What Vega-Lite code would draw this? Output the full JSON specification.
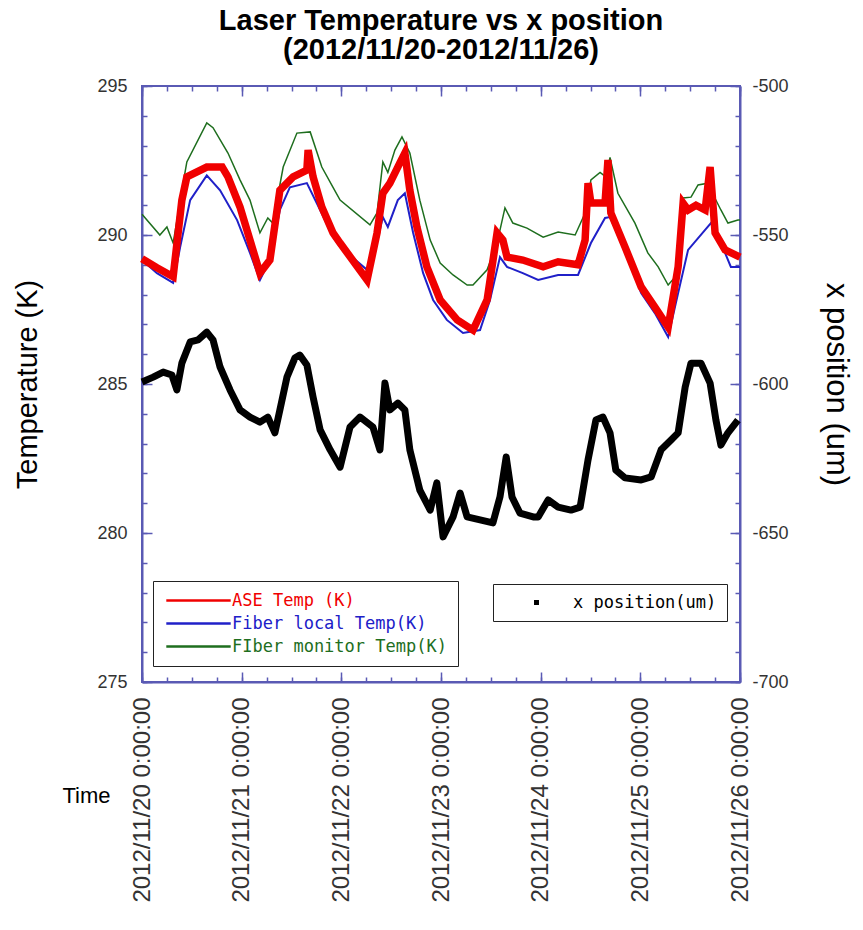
{
  "$schema": "https://vega.github.io/schema/vega-lite/v6.json",
  "width": 598,
  "height": 596,
  "autosize": "none",
  "padding": {"left": 142, "top": 86, "right": 123, "bottom": 248},
  "background": "white",
  "title": {
    "text": ["Laser Temperature vs x position", "(2012/11/20-2012/11/26)"],
    "font": "Liberation Sans",
    "fontSize": 29,
    "fontWeight": "bold",
    "lineHeight": 29,
    "offset": 12,
    "anchor": "middle",
    "color": "black"
  },
  "config": {
    "view": {"stroke": "#5a5ab4", "strokeWidth": 2},
    "axis": {
      "domainColor": "#5a5ab4",
      "domainWidth": 2,
      "tickColor": "#5a5ab4",
      "tickWidth": 1.5,
      "grid": false,
      "labelFont": "Liberation Sans",
      "labelColor": "#333333",
      "titleFont": "Liberation Sans",
      "titleFontWeight": "normal",
      "titleColor": "black",
      "labelOverlap": false,
      "labelFlush": false
    }
  },
  "datasets": {
    "temps": [
      {"s": "FIber monitor Temp(K)", "h": 0.0, "v": 290.7},
      {"s": "FIber monitor Temp(K)", "h": 4.3, "v": 290.0},
      {"s": "FIber monitor Temp(K)", "h": 6.0, "v": 290.27},
      {"s": "FIber monitor Temp(K)", "h": 7.5, "v": 289.73},
      {"s": "FIber monitor Temp(K)", "h": 9.9, "v": 291.74},
      {"s": "FIber monitor Temp(K)", "h": 10.8, "v": 292.45},
      {"s": "FIber monitor Temp(K)", "h": 15.6, "v": 293.76},
      {"s": "FIber monitor Temp(K)", "h": 17.1, "v": 293.6},
      {"s": "FIber monitor Temp(K)", "h": 20.7, "v": 292.75},
      {"s": "FIber monitor Temp(K)", "h": 23.6, "v": 291.85},
      {"s": "FIber monitor Temp(K)", "h": 26.0, "v": 291.17},
      {"s": "FIber monitor Temp(K)", "h": 28.4, "v": 290.07},
      {"s": "FIber monitor Temp(K)", "h": 30.3, "v": 290.57},
      {"s": "FIber monitor Temp(K)", "h": 31.5, "v": 290.4},
      {"s": "FIber monitor Temp(K)", "h": 34.0, "v": 292.28},
      {"s": "FIber monitor Temp(K)", "h": 37.3, "v": 293.42},
      {"s": "FIber monitor Temp(K)", "h": 40.5, "v": 293.46},
      {"s": "FIber monitor Temp(K)", "h": 43.3, "v": 292.28},
      {"s": "FIber monitor Temp(K)", "h": 46.0, "v": 291.6},
      {"s": "FIber monitor Temp(K)", "h": 47.7, "v": 291.17},
      {"s": "FIber monitor Temp(K)", "h": 54.9, "v": 290.34},
      {"s": "FIber monitor Temp(K)", "h": 56.6, "v": 290.74},
      {"s": "FIber monitor Temp(K)", "h": 58.0, "v": 292.45},
      {"s": "FIber monitor Temp(K)", "h": 59.2, "v": 292.1},
      {"s": "FIber monitor Temp(K)", "h": 60.9, "v": 292.85},
      {"s": "FIber monitor Temp(K)", "h": 62.6, "v": 293.29},
      {"s": "FIber monitor Temp(K)", "h": 64.5, "v": 292.75},
      {"s": "FIber monitor Temp(K)", "h": 66.9, "v": 291.17},
      {"s": "FIber monitor Temp(K)", "h": 69.4, "v": 289.83},
      {"s": "FIber monitor Temp(K)", "h": 71.8, "v": 289.06},
      {"s": "FIber monitor Temp(K)", "h": 74.9, "v": 288.66},
      {"s": "FIber monitor Temp(K)", "h": 78.3, "v": 288.32},
      {"s": "FIber monitor Temp(K)", "h": 79.7, "v": 288.32},
      {"s": "FIber monitor Temp(K)", "h": 83.1, "v": 288.83},
      {"s": "FIber monitor Temp(K)", "h": 85.5, "v": 289.73},
      {"s": "FIber monitor Temp(K)", "h": 87.4, "v": 290.91},
      {"s": "FIber monitor Temp(K)", "h": 89.3, "v": 290.4},
      {"s": "FIber monitor Temp(K)", "h": 92.7, "v": 290.23},
      {"s": "FIber monitor Temp(K)", "h": 96.6, "v": 289.93},
      {"s": "FIber monitor Temp(K)", "h": 100.2, "v": 290.1},
      {"s": "FIber monitor Temp(K)", "h": 104.3, "v": 290.0},
      {"s": "FIber monitor Temp(K)", "h": 106.7, "v": 290.74},
      {"s": "FIber monitor Temp(K)", "h": 108.1, "v": 291.85},
      {"s": "FIber monitor Temp(K)", "h": 110.3, "v": 292.1},
      {"s": "FIber monitor Temp(K)", "h": 111.7, "v": 291.95},
      {"s": "FIber monitor Temp(K)", "h": 112.7, "v": 292.6},
      {"s": "FIber monitor Temp(K)", "h": 114.6, "v": 291.4},
      {"s": "FIber monitor Temp(K)", "h": 118.7, "v": 290.4},
      {"s": "FIber monitor Temp(K)", "h": 121.8, "v": 289.4},
      {"s": "FIber monitor Temp(K)", "h": 124.3, "v": 288.93},
      {"s": "FIber monitor Temp(K)", "h": 126.7, "v": 288.32},
      {"s": "FIber monitor Temp(K)", "h": 128.4, "v": 288.59},
      {"s": "FIber monitor Temp(K)", "h": 130.3, "v": 291.24},
      {"s": "FIber monitor Temp(K)", "h": 132.2, "v": 291.27},
      {"s": "FIber monitor Temp(K)", "h": 133.9, "v": 291.68},
      {"s": "FIber monitor Temp(K)", "h": 136.3, "v": 291.74},
      {"s": "FIber monitor Temp(K)", "h": 137.0, "v": 291.5},
      {"s": "FIber monitor Temp(K)", "h": 139.4, "v": 290.84},
      {"s": "FIber monitor Temp(K)", "h": 141.1, "v": 290.4},
      {"s": "FIber monitor Temp(K)", "h": 143.5, "v": 290.5},
      {"s": "FIber monitor Temp(K)", "h": 144.0, "v": 290.5},

      {"s": "Fiber local Temp(K)", "h": 0.0, "v": 289.16},
      {"s": "Fiber local Temp(K)", "h": 3.6, "v": 288.72},
      {"s": "Fiber local Temp(K)", "h": 7.5, "v": 288.39},
      {"s": "Fiber local Temp(K)", "h": 9.2, "v": 289.6},
      {"s": "Fiber local Temp(K)", "h": 11.6, "v": 291.17},
      {"s": "Fiber local Temp(K)", "h": 15.6, "v": 292.0},
      {"s": "Fiber local Temp(K)", "h": 18.8, "v": 291.5},
      {"s": "Fiber local Temp(K)", "h": 22.9, "v": 290.5},
      {"s": "Fiber local Temp(K)", "h": 26.0, "v": 289.4},
      {"s": "Fiber local Temp(K)", "h": 28.4, "v": 288.49},
      {"s": "Fiber local Temp(K)", "h": 30.8, "v": 289.16},
      {"s": "Fiber local Temp(K)", "h": 33.2, "v": 290.84},
      {"s": "Fiber local Temp(K)", "h": 35.6, "v": 291.6},
      {"s": "Fiber local Temp(K)", "h": 39.7, "v": 291.74},
      {"s": "Fiber local Temp(K)", "h": 42.9, "v": 290.84},
      {"s": "Fiber local Temp(K)", "h": 46.0, "v": 289.93},
      {"s": "Fiber local Temp(K)", "h": 47.7, "v": 289.6},
      {"s": "Fiber local Temp(K)", "h": 54.2, "v": 288.83},
      {"s": "Fiber local Temp(K)", "h": 55.6, "v": 289.16},
      {"s": "Fiber local Temp(K)", "h": 58.0, "v": 290.6},
      {"s": "Fiber local Temp(K)", "h": 59.2, "v": 290.27},
      {"s": "Fiber local Temp(K)", "h": 61.6, "v": 291.17},
      {"s": "Fiber local Temp(K)", "h": 63.3, "v": 291.4},
      {"s": "Fiber local Temp(K)", "h": 65.3, "v": 290.07},
      {"s": "Fiber local Temp(K)", "h": 67.7, "v": 288.72},
      {"s": "Fiber local Temp(K)", "h": 70.1, "v": 287.82},
      {"s": "Fiber local Temp(K)", "h": 73.4, "v": 287.15},
      {"s": "Fiber local Temp(K)", "h": 77.3, "v": 286.71},
      {"s": "Fiber local Temp(K)", "h": 81.4, "v": 286.81},
      {"s": "Fiber local Temp(K)", "h": 83.8, "v": 287.82},
      {"s": "Fiber local Temp(K)", "h": 86.2, "v": 289.26},
      {"s": "Fiber local Temp(K)", "h": 87.9, "v": 288.93},
      {"s": "Fiber local Temp(K)", "h": 91.7, "v": 288.72},
      {"s": "Fiber local Temp(K)", "h": 95.4, "v": 288.49},
      {"s": "Fiber local Temp(K)", "h": 100.2, "v": 288.66},
      {"s": "Fiber local Temp(K)", "h": 105.0, "v": 288.66},
      {"s": "Fiber local Temp(K)", "h": 108.1, "v": 289.73},
      {"s": "Fiber local Temp(K)", "h": 111.5, "v": 290.57},
      {"s": "Fiber local Temp(K)", "h": 112.7, "v": 290.6},
      {"s": "Fiber local Temp(K)", "h": 116.3, "v": 289.5},
      {"s": "Fiber local Temp(K)", "h": 120.2, "v": 288.05},
      {"s": "Fiber local Temp(K)", "h": 123.5, "v": 287.38},
      {"s": "Fiber local Temp(K)", "h": 126.7, "v": 286.58},
      {"s": "Fiber local Temp(K)", "h": 129.1, "v": 288.05},
      {"s": "Fiber local Temp(K)", "h": 131.5, "v": 289.5},
      {"s": "Fiber local Temp(K)", "h": 135.6, "v": 290.17},
      {"s": "Fiber local Temp(K)", "h": 137.0, "v": 290.4},
      {"s": "Fiber local Temp(K)", "h": 140.4, "v": 289.4},
      {"s": "Fiber local Temp(K)", "h": 141.8, "v": 288.93},
      {"s": "Fiber local Temp(K)", "h": 144.0, "v": 288.93},

      {"s": "ASE Temp (K)", "h": 0.0, "v": 289.2},
      {"s": "ASE Temp (K)", "h": 3.6, "v": 288.9},
      {"s": "ASE Temp (K)", "h": 7.5, "v": 288.6},
      {"s": "ASE Temp (K)", "h": 9.6, "v": 291.17},
      {"s": "ASE Temp (K)", "h": 10.8, "v": 291.95},
      {"s": "ASE Temp (K)", "h": 15.6, "v": 292.28},
      {"s": "ASE Temp (K)", "h": 19.3, "v": 292.28},
      {"s": "ASE Temp (K)", "h": 20.7, "v": 291.95},
      {"s": "ASE Temp (K)", "h": 23.6, "v": 290.94},
      {"s": "ASE Temp (K)", "h": 26.0, "v": 289.83},
      {"s": "ASE Temp (K)", "h": 28.4, "v": 288.72},
      {"s": "ASE Temp (K)", "h": 30.8, "v": 289.16},
      {"s": "ASE Temp (K)", "h": 33.2, "v": 291.5},
      {"s": "ASE Temp (K)", "h": 36.4, "v": 291.95},
      {"s": "ASE Temp (K)", "h": 39.7, "v": 292.18},
      {"s": "ASE Temp (K)", "h": 40.0, "v": 292.85},
      {"s": "ASE Temp (K)", "h": 41.2, "v": 291.95},
      {"s": "ASE Temp (K)", "h": 43.3, "v": 290.94},
      {"s": "ASE Temp (K)", "h": 46.0, "v": 290.07},
      {"s": "ASE Temp (K)", "h": 47.7, "v": 289.73},
      {"s": "ASE Temp (K)", "h": 54.2, "v": 288.49},
      {"s": "ASE Temp (K)", "h": 56.6, "v": 290.07},
      {"s": "ASE Temp (K)", "h": 58.0, "v": 291.4},
      {"s": "ASE Temp (K)", "h": 59.7, "v": 291.74},
      {"s": "ASE Temp (K)", "h": 62.1, "v": 292.42},
      {"s": "ASE Temp (K)", "h": 63.3, "v": 292.75},
      {"s": "ASE Temp (K)", "h": 64.5, "v": 291.5},
      {"s": "ASE Temp (K)", "h": 66.2, "v": 290.27},
      {"s": "ASE Temp (K)", "h": 68.6, "v": 288.93},
      {"s": "ASE Temp (K)", "h": 71.8, "v": 287.82},
      {"s": "ASE Temp (K)", "h": 75.9, "v": 287.15},
      {"s": "ASE Temp (K)", "h": 79.7, "v": 286.81},
      {"s": "ASE Temp (K)", "h": 83.1, "v": 287.82},
      {"s": "ASE Temp (K)", "h": 85.5, "v": 290.07},
      {"s": "ASE Temp (K)", "h": 86.9, "v": 289.83},
      {"s": "ASE Temp (K)", "h": 87.9, "v": 289.26},
      {"s": "ASE Temp (K)", "h": 91.7, "v": 289.16},
      {"s": "ASE Temp (K)", "h": 96.6, "v": 288.93},
      {"s": "ASE Temp (K)", "h": 100.2, "v": 289.1},
      {"s": "ASE Temp (K)", "h": 105.0, "v": 289.0},
      {"s": "ASE Temp (K)", "h": 106.7, "v": 289.83},
      {"s": "ASE Temp (K)", "h": 107.4, "v": 291.74},
      {"s": "ASE Temp (K)", "h": 108.1, "v": 291.07},
      {"s": "ASE Temp (K)", "h": 111.5, "v": 291.07},
      {"s": "ASE Temp (K)", "h": 112.2, "v": 292.52},
      {"s": "ASE Temp (K)", "h": 112.9, "v": 290.74},
      {"s": "ASE Temp (K)", "h": 116.3, "v": 289.6},
      {"s": "ASE Temp (K)", "h": 120.2, "v": 288.26},
      {"s": "ASE Temp (K)", "h": 123.5, "v": 287.58},
      {"s": "ASE Temp (K)", "h": 126.7, "v": 286.91},
      {"s": "ASE Temp (K)", "h": 129.1, "v": 288.93},
      {"s": "ASE Temp (K)", "h": 130.3, "v": 291.07},
      {"s": "ASE Temp (K)", "h": 131.5, "v": 290.84},
      {"s": "ASE Temp (K)", "h": 133.4, "v": 291.0},
      {"s": "ASE Temp (K)", "h": 135.6, "v": 290.84},
      {"s": "ASE Temp (K)", "h": 136.8, "v": 292.28},
      {"s": "ASE Temp (K)", "h": 138.0, "v": 290.07},
      {"s": "ASE Temp (K)", "h": 140.4, "v": 289.5},
      {"s": "ASE Temp (K)", "h": 144.0, "v": 289.26}
    ],
    "xpos": [
      {"s": "x position(um)", "h": 0.0, "u": -599.3},
      {"s": "x position(um)", "h": 2.7, "u": -597.7},
      {"s": "x position(um)", "h": 5.1, "u": -596.0},
      {"s": "x position(um)", "h": 7.2, "u": -597.0},
      {"s": "x position(um)", "h": 8.4, "u": -602.0},
      {"s": "x position(um)", "h": 9.6, "u": -593.0},
      {"s": "x position(um)", "h": 11.6, "u": -585.9},
      {"s": "x position(um)", "h": 13.5, "u": -585.2},
      {"s": "x position(um)", "h": 15.6, "u": -582.6},
      {"s": "x position(um)", "h": 17.1, "u": -585.2},
      {"s": "x position(um)", "h": 18.8, "u": -594.3},
      {"s": "x position(um)", "h": 21.2, "u": -602.0},
      {"s": "x position(um)", "h": 23.6, "u": -608.7},
      {"s": "x position(um)", "h": 26.0, "u": -611.1},
      {"s": "x position(um)", "h": 28.4, "u": -612.8},
      {"s": "x position(um)", "h": 30.3, "u": -611.1},
      {"s": "x position(um)", "h": 32.0, "u": -616.4},
      {"s": "x position(um)", "h": 33.2, "u": -608.7},
      {"s": "x position(um)", "h": 34.9, "u": -597.7},
      {"s": "x position(um)", "h": 36.8, "u": -591.3},
      {"s": "x position(um)", "h": 38.0, "u": -590.3},
      {"s": "x position(um)", "h": 39.7, "u": -593.6},
      {"s": "x position(um)", "h": 41.2, "u": -604.4},
      {"s": "x position(um)", "h": 42.9, "u": -615.4},
      {"s": "x position(um)", "h": 45.3, "u": -622.1},
      {"s": "x position(um)", "h": 47.7, "u": -627.9},
      {"s": "x position(um)", "h": 50.1, "u": -614.4},
      {"s": "x position(um)", "h": 52.5, "u": -611.1},
      {"s": "x position(um)", "h": 55.6, "u": -614.4},
      {"s": "x position(um)", "h": 57.3, "u": -622.1},
      {"s": "x position(um)", "h": 58.5, "u": -599.7},
      {"s": "x position(um)", "h": 59.7, "u": -608.7},
      {"s": "x position(um)", "h": 61.6, "u": -606.4},
      {"s": "x position(um)", "h": 63.3, "u": -608.7},
      {"s": "x position(um)", "h": 64.5, "u": -622.1},
      {"s": "x position(um)", "h": 66.9, "u": -635.6},
      {"s": "x position(um)", "h": 69.4, "u": -642.3},
      {"s": "x position(um)", "h": 71.0, "u": -633.2},
      {"s": "x position(um)", "h": 72.5, "u": -651.3},
      {"s": "x position(um)", "h": 74.9, "u": -644.6},
      {"s": "x position(um)", "h": 76.6, "u": -636.6},
      {"s": "x position(um)", "h": 78.3, "u": -644.6},
      {"s": "x position(um)", "h": 81.4, "u": -645.6},
      {"s": "x position(um)", "h": 84.5, "u": -646.6},
      {"s": "x position(um)", "h": 86.2, "u": -637.9},
      {"s": "x position(um)", "h": 87.7, "u": -624.5},
      {"s": "x position(um)", "h": 89.1, "u": -637.9},
      {"s": "x position(um)", "h": 91.0, "u": -643.3},
      {"s": "x position(um)", "h": 94.2, "u": -644.6},
      {"s": "x position(um)", "h": 95.4, "u": -644.6},
      {"s": "x position(um)", "h": 97.8, "u": -638.9},
      {"s": "x position(um)", "h": 100.2, "u": -641.3},
      {"s": "x position(um)", "h": 103.3, "u": -642.3},
      {"s": "x position(um)", "h": 105.5, "u": -641.3},
      {"s": "x position(um)", "h": 107.4, "u": -625.5},
      {"s": "x position(um)", "h": 109.3, "u": -612.1},
      {"s": "x position(um)", "h": 111.0, "u": -611.1},
      {"s": "x position(um)", "h": 112.7, "u": -616.4},
      {"s": "x position(um)", "h": 114.1, "u": -628.9},
      {"s": "x position(um)", "h": 116.3, "u": -631.5},
      {"s": "x position(um)", "h": 120.2, "u": -632.2},
      {"s": "x position(um)", "h": 122.6, "u": -631.2},
      {"s": "x position(um)", "h": 125.0, "u": -622.1},
      {"s": "x position(um)", "h": 127.4, "u": -618.8},
      {"s": "x position(um)", "h": 129.1, "u": -616.4},
      {"s": "x position(um)", "h": 130.8, "u": -601.0},
      {"s": "x position(um)", "h": 132.2, "u": -593.0},
      {"s": "x position(um)", "h": 134.6, "u": -593.0},
      {"s": "x position(um)", "h": 136.8, "u": -599.7},
      {"s": "x position(um)", "h": 138.2, "u": -612.1},
      {"s": "x position(um)", "h": 139.4, "u": -620.5},
      {"s": "x position(um)", "h": 141.1, "u": -616.4},
      {"s": "x position(um)", "h": 143.5, "u": -612.1}
    ]
  },
  "layer": [
    {
      "data": {"name": "temps"},
      "encoding": {
        "color": {
          "field": "s",
          "type": "nominal",
          "scale": {
            "domain": ["ASE Temp (K)", "Fiber local Temp(K)", "FIber monitor Temp(K)"],
            "range": ["#f00000", "#2020c8", "#1e6e1e"]
          },
          "legend": {
            "orient": "none",
            "legendX": 11,
            "legendY": 495,
            "title": null,
            "strokeColor": "#222222",
            "fillColor": "white",
            "padding": 11,
            "symbolType": "M-4.6,0H4.6",
            "symbolSize": 196,
            "symbolStrokeWidth": 2.5,
            "symbolOffset": 26,
            "labelOffset": 25,
            "labelFont": "DejaVu Sans Mono",
            "labelFontSize": 17,
            "labelLimit": 400,
            "rowPadding": 5,
            "encode": {
              "labels": {
                "update": {
                  "fill": {"signal": "datum.value === 'ASE Temp (K)' ? '#f00000' : datum.value === 'Fiber local Temp(K)' ? '#2020c8' : '#1e6e1e'"}
                }
              }
            }
          }
        }
      },
      "layer": [
        {
          "transform": [{"filter": "datum.s === 'FIber monitor Temp(K)'"}],
          "mark": {"type": "line", "strokeWidth": 1.5},
          "encoding": {
            "x": {
              "field": "h",
              "type": "quantitative",
              "scale": {"domain": [0, 144], "nice": false, "zero": false},
              "axis": {
                "orient": "bottom",
                "values": [0, 24, 48, 72, 96, 120, 144],
                "labelExpr": "'2012/11/' + (20 + datum.value / 24) + ' 0:00:00'",
                "labelAngle": 270,
                "labelAlign": "right",
                "labelBaseline": "middle",
                "labelFontSize": 24,
                "labelLimit": 400,
                "labelPadding": 15,
                "ticks": false,
                "title": "Time",
                "titleAngle": 0,
                "titleX": -56,
                "titleY": 113,
                "titleAlign": "center",
                "titleBaseline": "middle",
                "titleFontSize": 22
              }
            },
            "y": {
              "field": "v",
              "type": "quantitative",
              "scale": {"domain": [275, 295], "nice": false, "zero": false},
              "axis": {
                "orient": "left",
                "values": [275, 280, 285, 290, 295],
                "labelFontSize": 18,
                "labelPadding": 15,
                "ticks": false,
                "title": "Temperature (K)",
                "titleFontSize": 29,
                "titlePadding": 54
              }
            }
          }
        },
        {
          "transform": [{"filter": "datum.s === 'Fiber local Temp(K)'"}],
          "mark": {"type": "line", "strokeWidth": 2},
          "encoding": {
            "x": {
              "field": "h",
              "type": "quantitative",
              "axis": {
                "orient": "bottom",
                "values": [0, 6, 12, 18, 24, 30, 36, 42, 48, 54, 60, 66, 72, 78, 84, 90, 96, 102, 108, 114, 120, 126, 132, 138, 144],
                "labels": false,
                "domain": false,
                "title": null,
                "offset": -5,
                "tickSize": 5
              }
            },
            "y": {
              "field": "v",
              "type": "quantitative",
              "axis": {
                "orient": "left",
                "values": [275, 276, 277, 278, 279, 280, 281, 282, 283, 284, 285, 286, 287, 288, 289, 290, 291, 292, 293, 294, 295],
                "labels": false,
                "domain": false,
                "title": null,
                "offset": -5,
                "tickSize": 5
              }
            }
          }
        },
        {
          "transform": [{"filter": "datum.s === 'ASE Temp (K)'"}],
          "mark": {"type": "line", "strokeWidth": 7.5},
          "encoding": {
            "x": {
              "field": "h",
              "type": "quantitative",
              "axis": {
                "orient": "bottom",
                "values": [0, 24, 48, 72, 96, 120, 144],
                "labels": false,
                "domain": false,
                "title": null,
                "offset": -10,
                "tickSize": 10
              }
            },
            "y": {
              "field": "v",
              "type": "quantitative",
              "axis": {
                "orient": "left",
                "values": [275, 280, 285, 290, 295],
                "labels": false,
                "domain": false,
                "title": null,
                "offset": -10,
                "tickSize": 10
              }
            }
          }
        }
      ],
      "resolve": {"axis": {"x": "independent", "y": "independent"}}
    },
    {
      "data": {"name": "xpos"},
      "layer": [
        {
          "mark": {"type": "line", "strokeWidth": 7, "strokeJoin": "round"},
          "encoding": {
            "x": {
              "field": "h",
              "type": "quantitative",
              "scale": {"domain": [0, 144], "nice": false, "zero": false},
              "axis": {
                "orient": "top",
                "values": [0, 24, 48, 72, 96, 120, 144],
                "labels": false,
                "domain": false,
                "title": null,
                "offset": -10,
                "tickSize": 10
              }
            },
            "y": {
              "field": "u",
              "type": "quantitative",
              "scale": {"domain": [-700, -500], "nice": false, "zero": false},
              "axis": {
                "orient": "right",
                "values": [-700, -650, -600, -550, -500],
                "labelExpr": "'' + datum.value",
                "labelFontSize": 18,
                "labelPadding": 12,
                "ticks": false,
                "title": "x position (um)",
                "titleFontSize": 31,
                "titlePadding": 31
              }
            },
            "color": {
              "field": "s",
              "type": "nominal",
              "scale": {"domain": ["x position(um)"], "range": ["black"]},
              "legend": {
                "orient": "none",
                "legendX": 351,
                "legendY": 498,
                "title": null,
                "strokeColor": "#222222",
                "fillColor": "white",
                "padding": 10,
                "symbolType": "square",
                "symbolSize": 12,
                "symbolOffset": 25,
                "labelOffset": 28,
                "labelFont": "DejaVu Sans Mono",
                "labelFontSize": 17,
                "labelColor": "black",
                "encode": {"symbols": {"update": {"fill": {"value": "black"}}}}
              }
            }
          }
        },
        {
          "mark": {"type": "line", "strokeOpacity": 0},
          "encoding": {
            "x": {
              "field": "h",
              "type": "quantitative",
              "axis": {
                "orient": "top",
                "values": [0, 6, 12, 18, 24, 30, 36, 42, 48, 54, 60, 66, 72, 78, 84, 90, 96, 102, 108, 114, 120, 126, 132, 138, 144],
                "labels": false,
                "domain": false,
                "title": null,
                "offset": -5,
                "tickSize": 5
              }
            },
            "y": {
              "field": "u",
              "type": "quantitative",
              "axis": {
                "orient": "right",
                "values": [-700, -690, -680, -670, -660, -650, -640, -630, -620, -610, -600, -590, -580, -570, -560, -550, -540, -530, -520, -510, -500],
                "labels": false,
                "domain": false,
                "title": null,
                "offset": -5,
                "tickSize": 5
              }
            }
          }
        },
        {
          "mark": {"type": "line", "strokeOpacity": 0},
          "encoding": {
            "x": {"field": "h", "type": "quantitative", "axis": null},
            "y": {
              "field": "u",
              "type": "quantitative",
              "axis": {
                "orient": "right",
                "values": [-700, -650, -600, -550, -500],
                "labels": false,
                "domain": false,
                "title": null,
                "offset": -10,
                "tickSize": 10
              }
            }
          }
        }
      ],
      "resolve": {"axis": {"x": "independent", "y": "independent"}}
    }
  ],
  "resolve": {
    "scale": {"y": "independent", "color": "independent"},
    "axis": {"x": "independent"}
  }
}
